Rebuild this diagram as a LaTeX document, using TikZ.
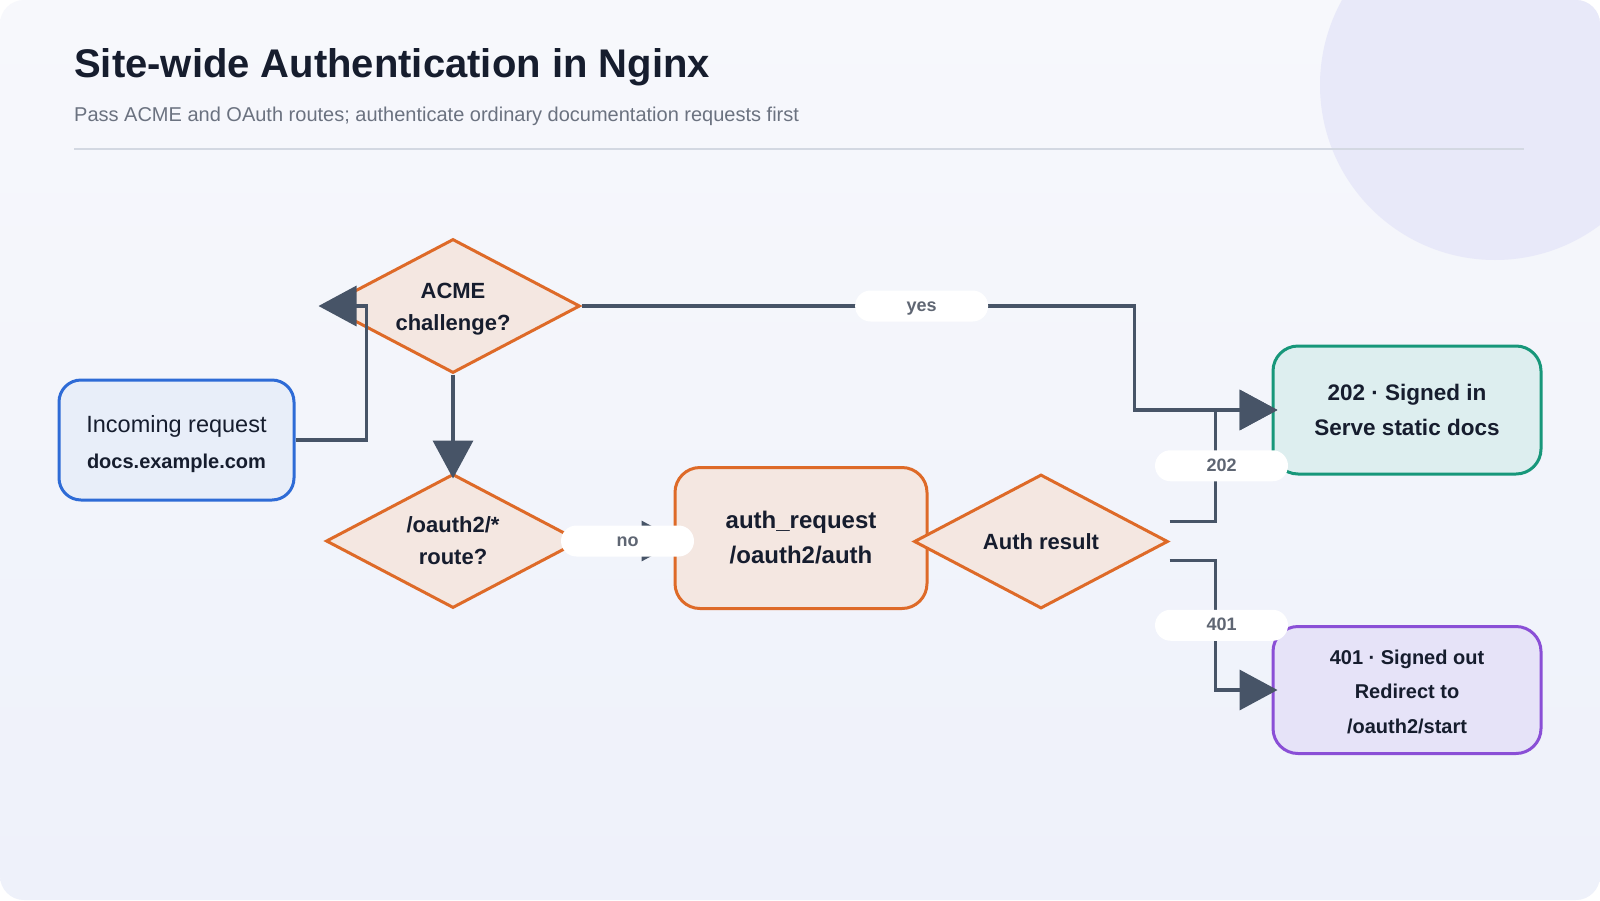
\documentclass[tikz,border=0pt]{standalone}
\usepackage{fontspec}
\setmainfont{Liberation Sans}
\usetikzlibrary{arrows.meta,positioning,shapes.geometric,calc}
\definecolor{ink}{HTML}{161D2E}
\definecolor{subgray}{HTML}{6B7280}
\definecolor{rule}{HTML}{D3D8E2}
\definecolor{wire}{HTML}{475467}
\definecolor{bgA}{HTML}{F7F8FC}
\definecolor{bgB}{HTML}{EEF1FA}
\definecolor{blob}{HTML}{E8E9F9}
\definecolor{srcline}{HTML}{2E6BD6}
\definecolor{srcfill}{HTML}{E8EEF9}
\definecolor{orline}{HTML}{DE6A28}
\definecolor{orfill}{HTML}{F4E7E1}
\definecolor{okline}{HTML}{17977A}
\definecolor{okfill}{HTML}{DDEEEF}
\definecolor{badline}{HTML}{8A4FD6}
\definecolor{badfill}{HTML}{E6E3F8}
\definecolor{pilltext}{HTML}{5F6673}
\tikzset{
  src/.style={rectangle, rounded corners=22pt, draw=srcline, line width=3pt, fill=srcfill,
              minimum width=235pt, minimum height=120pt, align=center, text=ink,
              font=\fontsize{23.5}{36.5}\selectfont},
  proc/.style={rectangle, rounded corners=25pt, draw=orline, line width=3pt, fill=orfill,
               minimum width=252pt, minimum height=141pt, align=center, text=ink,
               font=\fontsize{24}{35}\selectfont\bfseries},
  dec/.style={diamond, aspect=1.9, draw=orline, line width=3pt, fill=orfill, inner sep=0pt,
              minimum width=254pt, minimum height=134pt, align=center, text=ink,
              font=\fontsize{22}{32}\selectfont\bfseries},
  okbox/.style={rectangle, rounded corners=25pt, draw=okline, line width=3pt, fill=okfill,
                minimum width=268pt, minimum height=128pt, align=center, text=ink,
                font=\fontsize{22.5}{35}\selectfont\bfseries},
  badbox/.style={okbox, draw=badline, fill=badfill, minimum height=127pt,
                 font=\fontsize{20}{34.5}\selectfont\bfseries},
  ar/.style={-{Triangle[length=38pt, width=40pt]}, draw=wire, line width=3.5pt, shorten >=-6pt},
  pill/.style={rectangle, rounded corners=15.5pt, fill=white, draw=none, text=pilltext,
               minimum width=133pt, minimum height=31pt, inner sep=0pt,
               text height=11pt, text depth=0pt, font=\fontsize{18}{18}\selectfont\bfseries},
}

\begin{document}
\begin{tikzpicture}[x=1pt, y=-1pt]
\useasboundingbox (0,0) rectangle (1600,900);
\fill[white] (0,0) rectangle (1600,900);
\begin{scope}
  \path[clip, rounded corners=24pt] (0,0) rectangle (1600,900);
  \shade[top color=bgA, bottom color=bgB] (0,0) rectangle (1600,900);
  \fill[blob] (1495,85) circle (175pt);
\end{scope}

% heading
\node[anchor=base west, inner sep=0pt, text=ink, font=\fontsize{40}{40}\selectfont\bfseries]
  (title) at (74,77) {Site-wide Authentication in Nginx};
\node[anchor=base west, inner sep=0pt, text=subgray, font=\fontsize{20}{20}\selectfont]
  (subtitle) at (74,121) {Pass ACME and OAuth routes; authenticate ordinary documentation requests first};
\draw[rule, line width=1.2pt] (74,149) -- (1524,149);

% nodes
\node[src] (inc) at (176.5,440) {\rule{0pt}{25pt}Incoming request\\\fontsize{20}{36.5}\selectfont\textbf{docs.example.com}};
\node[dec] (acme) at (453,306) {\rule{0pt}{22pt}ACME\\challenge?};
\node[dec, below=98pt of acme] (route) {/oauth2/*\\route?};
\node[proc, right=92pt of route, yshift=3pt] (authreq) {auth\_request\\/oauth2/auth};
\node[dec, right=-16pt of authreq, yshift=-3.5pt] (res) {Auth result};
\node[okbox] (ok) at (1407,410) {202 · Signed in\\Serve static docs};
\node[badbox] (bad) at (1407,690) {\rule{0pt}{18pt}401 · Signed out\\Redirect to\\/oauth2/start};

% connectors
\draw[ar] (inc.east) -- ++(71,0) |- (acme.west);
\draw[ar] (acme.south) -- (route.north);
\draw[ar] (acme.east) -- node[pill, pos=0.615] (yes) {yes} ++(553,0) |- (ok.west);
\draw[ar] (route.east) -- node[pill] (no) {no} (route.east -| authreq.west);
\draw[ar] ([yshift=20pt]res.east) -- ++(46,0) |- node[pill, pos=0.25, xshift=6pt] (l202) {202} (ok.west);
\draw[ar] ([yshift=-19pt]res.east) -- ++(46,0) |- node[pill, pos=0.25, xshift=6pt] (l401) {401} (bad.west);
\end{tikzpicture}
\end{document}
